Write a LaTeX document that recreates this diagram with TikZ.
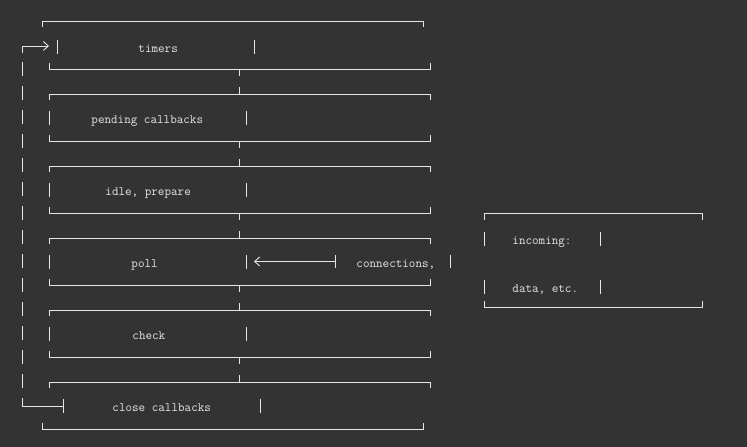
\documentclass[tikz,border=0pt]{standalone}
\usepackage{tikz}
\usetikzlibrary{arrows.meta}

\definecolor{bg}{HTML}{333333}
\definecolor{ink}{HTML}{E6E6E6}

\begin{document}
\begin{tikzpicture}[x=1bp, y=-1bp, line width=0.9bp, ink,
        >={Straight Barb[length=5bp, width=9bp]},
        lbl/.style={inner sep=0pt, anchor=base west, text=ink, font=\ttfamily\fontsize{12.8}{14}\selectfont}]
        \fill[bg] (0,0) rectangle (747,447);
        \useasboundingbox (0,0) rectangle (747,447);

        \draw (42,27) -- (42,21) -- (423,21) -- (423,27);
        \draw (57,40) -- (57,54);
        \draw (254,40) -- (254,54);
        \node[lbl] (timers) at (138,52.5) {timers};
        \draw (49,63) -- (49,69) -- (430,69) -- (430,63);
        \draw (239,69) -- (239,76);

        \foreach \name/\txt/\tx [count=\i from 0] in {pending/pending callbacks/91, idle/{idle, prepare}/105, poll/poll/131, check/check/132}
        {
            \draw (49,100+72*\i) -- (49,94+72*\i) -- (430,94+72*\i) -- (430,100+72*\i);
            \draw (239,87+72*\i) -- (239,94+72*\i);
            \draw (49,111+72*\i) -- (49,125+72*\i);
            \draw (246,111+72*\i) -- (246,125+72*\i);
            \node[lbl] (\name) at (\tx,123.5+72*\i) {\txt};
            \draw (49,135+72*\i) -- (49,141+72*\i) -- (430,141+72*\i) -- (430,135+72*\i);
            \draw (239,141+72*\i) -- (239,148+72*\i);
        }

        \draw (49,388) -- (49,382) -- (430,382) -- (430,388);
        \draw (239,375) -- (239,382);
        \draw (63,399) -- (63,413);
        \draw (260,399) -- (260,413);
        \node[lbl] (close) at (112,411.5) {close callbacks};
        \draw (42,423) -- (42,429) -- (423,429) -- (423,423);

        \coordinate (loopend) at (22,406);
        \coordinate (loopstart) at (22,46);
        \draw[dash pattern=on 14bp off 10bp] (22,62) -- (loopend);
        \draw (loopend) -- (63,406);
        \draw[->] (22,53) -- (loopstart) -- (49,46);

        \draw (335,255) -- (335,268);
        \draw (450,255) -- (450,268);
        \node[lbl] (conn) at (356,267.5) {connections,};
        \coordinate (connbar) at (335,261.5);
        \coordinate (pollbar) at (254,261.5);
        \draw[->] (connbar) -- (pollbar);

        \draw (484,220) -- (484,213) -- (702,213) -- (702,220);
        \draw (484,232) -- (484,246);
        \draw (600,232) -- (600,246);
        \node[lbl] (incoming) at (512,244.5) {incoming:};
        \draw (484,280) -- (484,294);
        \draw (600,280) -- (600,294);
        \node[lbl] (data) at (512,292.5) {data, etc.};
        \draw (484,301) -- (484,307) -- (702,307) -- (702,301);
    \end{tikzpicture}
\end{document}
